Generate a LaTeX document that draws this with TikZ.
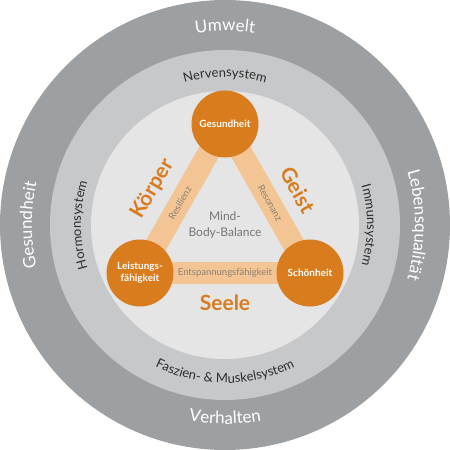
\documentclass[tikz,border=0pt]{standalone}
\usepackage{fontspec}
\setmainfont{Lato}
\setsansfont{Lato}
\usetikzlibrary{decorations.text}

\definecolor{ringout}{RGB}{157,160,163}
\definecolor{ringmid}{RGB}{198,200,202}
\definecolor{ringin}{RGB}{229,229,229}
\definecolor{orng}{RGB}{216,124,30}
\definecolor{barorng}{RGB}{243,197,148}
\definecolor{bartext}{RGB}{140,128,115}
\definecolor{balgray}{RGB}{118,118,120}
\definecolor{ringdark}{RGB}{45,45,45}

\pgfdeclarelayer{rings}
\pgfdeclarelayer{bars}
\pgfsetlayers{rings,bars,main}

\newcommand{\outerfmt}{\color{white}\fontsize{17}{17}\selectfont}
\newcommand{\innerfmt}{\color{ringdark}\fontsize{13}{13}\selectfont}

\tikzset{
  pillar/.style={circle,fill=orng,text=white,minimum size=67pt,inner sep=0pt,
    align=center,font=\bfseries\fontsize{10}{12}\selectfont},
  link/.style={draw=barorng,line width=22pt},
  linklabel/.style={text=bartext,inner sep=1pt,font=\fontsize{9.5}{10}\selectfont},
  side/.style={text=orng,font=\bfseries\fontsize{21}{22}\selectfont},
  balance/.style={text=balgray,align=center,font=\fontsize{12}{16}\selectfont},
  ringlabel/.style={decorate,decoration={text along path,text align=center,text={#1}}}
}

\begin{document}
\begin{tikzpicture}[x=1pt,y=1pt]
  \useasboundingbox (-225,-225) rectangle (225,225);
  \begin{pgfonlayer}{rings}
    \fill[ringout] (0,0) circle[radius=225pt];
    \fill[ringmid] (0,0) circle[radius=175pt];
    \fill[ringin] (0,0) circle[radius=134pt];
  \end{pgfonlayer}
  % outer ring
  \path[ringlabel={|\outerfmt|Umwelt}] (180:194pt) arc[start angle=180,end angle=0,radius=194pt];
  \path[ringlabel={|\outerfmt|Gesundheit}] (225:193pt) arc[start angle=225,end angle=135,radius=193pt];
  \path[ringlabel={|\outerfmt|Lebensqualität}] (45:190pt) arc[start angle=45,end angle=-45,radius=190pt];
  \path[ringlabel={|\outerfmt|Verhalten}] (225:199pt) arc[start angle=225,end angle=315,radius=199pt];
  % middle ring
  \path[ringlabel={|\innerfmt|Nervensystem}] (150:148pt) arc[start angle=150,end angle=30,radius=148pt];
  \path[ringlabel={|\innerfmt|Hormonsystem}] (240:144pt) arc[start angle=240,end angle=120,radius=144pt];
  \path[ringlabel={|\innerfmt|Immunsystem}] (60:142pt) arc[start angle=60,end angle=-60,radius=142pt];
  \path[ringlabel={|\innerfmt|Faszien- {\&} Muskelsystem}] (200:158pt) arc[start angle=200,end angle=340,radius=158pt];

  \node[pillar] (g) at (0,101) {Gesundheit};
  \node[pillar] (l) at (-85,-48) {Leistungs-\\fähigkeit};
  \node[pillar] (s) at (85,-48) {Schönheit};
  \begin{pgfonlayer}{bars}
    \draw[link] (g.center) -- node[linklabel,sloped,pos=.53] (res) {Resilienz} (l.center);
    \draw[link] (g.center) -- node[linklabel,sloped,pos=.53] (reso) {Resonanz} (s.center);
    \draw[link] (l.center) -- node[linklabel] (ent) {Entspannungsfähigkeit} (s.center);
  \end{pgfonlayer}

  \node[side,rotate=60] (koerper) at (-72,36) {Körper};
  \node[side,rotate=-60] (geist) at (73,35) {Geist};
  \node[side] (seele) at (0,-78) {Seele};
  \node[balance] (mbb) at (0,0) {Mind-\\Body-Balance};
\end{tikzpicture}
\end{document}
